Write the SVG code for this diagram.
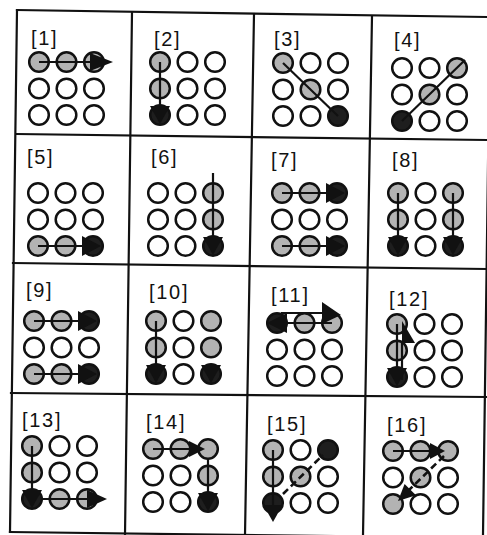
<svg xmlns="http://www.w3.org/2000/svg" width="487" height="535" viewBox="0 0 487 535">
<style>
.bg{fill:#fff}
.g{stroke:#111;stroke-width:2.2;fill:none;stroke-linecap:square}
.w{fill:#fff;stroke:#111;stroke-width:2.5}
.s{fill:#b3b3b3;stroke:#111;stroke-width:2.5}
.e{fill:#1e1e1e;stroke:#111;stroke-width:2.5}
.l{stroke:#111;stroke-width:2.2;fill:none}
.d{stroke:#111;stroke-width:2.6;fill:none;stroke-dasharray:7 4}
.a{fill:#111}
.t{font-family:"Liberation Sans",Arial,sans-serif;font-size:20px;letter-spacing:1.7px;fill:#111}
circle{r:9.8px}
</style>
<rect class="bg" x="0" y="0" width="487" height="535"/>
<g id="grid">
<path class="g" d="M17,10 L487,17 M17,134 L487,140 M13,263 L487,269 M11,393 L487,397 M10,532 L487,538"/>
<path class="g" d="M17,10 L10,532 M132,12 L125,535 M254,14 L245,535 M372,16 L363,535 M490,17 L483,535"/>
</g>
<g id="labels">
<text class="t" x="31" y="45">[1]</text>
<text class="t" x="154" y="46">[2]</text>
<text class="t" x="274" y="46">[3]</text>
<text class="t" x="394" y="47">[4]</text>
<text class="t" x="27" y="164">[5]</text>
<text class="t" x="151" y="164">[6]</text>
<text class="t" x="271" y="167">[7]</text>
<text class="t" x="392" y="167">[8]</text>
<text class="t" x="26" y="297">[9]</text>
<text class="t" x="149" y="299">[10]</text>
<text class="t" x="271" y="302">[11]</text>
<text class="t" x="389" y="306">[12]</text>
<text class="t" x="22" y="427">[13]</text>
<text class="t" x="146" y="429">[14]</text>
<text class="t" x="267" y="431">[15]</text>
<text class="t" x="387" y="432">[16]</text>
</g>
<g id="cell1" transform="translate(39,62)">
<circle class="s" cx="0" cy="0" r="9.8"/><circle class="s" cx="27.5" cy="0" r="9.8"/><circle class="s" cx="55" cy="0" r="9.8"/>
<circle class="w" cx="0" cy="26.5" r="9.8"/><circle class="w" cx="27.5" cy="26.5" r="9.8"/><circle class="w" cx="55" cy="26.5" r="9.8"/>
<circle class="w" cx="0" cy="53" r="9.8"/><circle class="w" cx="27.5" cy="53" r="9.8"/><circle class="w" cx="55" cy="53" r="9.8"/>
<path class="l" d="M0,0 H52"/>
<polygon class="a" points="51,-9 74,0 51,9"/>
</g>
<g id="cell2" transform="translate(160,62)">
<circle class="s" cx="0" cy="0" r="9.8"/><circle class="w" cx="27.5" cy="0" r="9.8"/><circle class="w" cx="55" cy="0" r="9.8"/>
<circle class="s" cx="0" cy="26.5" r="9.8"/><circle class="w" cx="27.5" cy="26.5" r="9.8"/><circle class="w" cx="55" cy="26.5" r="9.8"/>
<circle class="e" cx="0" cy="53" r="9.8"/><circle class="w" cx="27.5" cy="53" r="9.8"/><circle class="w" cx="55" cy="53" r="9.8"/>
<path class="l" d="M0,0 V45"/>
<polygon class="a" points="-10,44 10,44 0,62"/>
</g>
<g id="cell3" transform="translate(283,63)">
<circle class="s" cx="0" cy="0" r="9.8"/><circle class="w" cx="27.5" cy="0" r="9.8"/><circle class="w" cx="55" cy="0" r="9.8"/>
<circle class="w" cx="0" cy="26.5" r="9.8"/><circle class="s" cx="27.5" cy="26.5" r="9.8"/><circle class="w" cx="55" cy="26.5" r="9.8"/>
<circle class="w" cx="0" cy="53" r="9.8"/><circle class="w" cx="27.5" cy="53" r="9.8"/><circle class="e" cx="55" cy="53" r="9.8"/>
<path class="l" d="M0,0 L55,53"/>
</g>
<g id="cell4" transform="translate(402,68)">
<circle class="w" cx="0" cy="0" r="9.8"/><circle class="w" cx="27.5" cy="0" r="9.8"/><circle class="s" cx="55" cy="0" r="9.8"/>
<circle class="w" cx="0" cy="26.5" r="9.8"/><circle class="s" cx="27.5" cy="26.5" r="9.8"/><circle class="w" cx="55" cy="26.5" r="9.8"/>
<circle class="e" cx="0" cy="53" r="9.8"/><circle class="w" cx="27.5" cy="53" r="9.8"/><circle class="w" cx="55" cy="53" r="9.8"/>
<path class="l" d="M63,-8 L0,53"/>
</g>
<g id="cell5" transform="translate(38,193)">
<circle class="w" cx="0" cy="0" r="9.8"/><circle class="w" cx="27.5" cy="0" r="9.8"/><circle class="w" cx="55" cy="0" r="9.8"/>
<circle class="w" cx="0" cy="26.5" r="9.8"/><circle class="w" cx="27.5" cy="26.5" r="9.8"/><circle class="w" cx="55" cy="26.5" r="9.8"/>
<circle class="s" cx="0" cy="53" r="9.8"/><circle class="s" cx="27.5" cy="53" r="9.8"/><circle class="e" cx="55" cy="53" r="9.8"/>
<path class="l" d="M0,53 H45"/>
<polygon class="a" points="44,43 44,63 63,53"/>
</g>
<g id="cell6" transform="translate(158,193)">
<circle class="w" cx="0" cy="0" r="9.8"/><circle class="w" cx="27.5" cy="0" r="9.8"/><circle class="s" cx="55" cy="0" r="9.8"/>
<circle class="w" cx="0" cy="26.5" r="9.8"/><circle class="w" cx="27.5" cy="26.5" r="9.8"/><circle class="s" cx="55" cy="26.5" r="9.8"/>
<circle class="w" cx="0" cy="53" r="9.8"/><circle class="w" cx="27.5" cy="53" r="9.8"/><circle class="e" cx="55" cy="53" r="9.8"/>
<path class="l" d="M55,-20 V45"/>
<polygon class="a" points="45,44 65,44 55,62"/>
</g>
<g id="cell7" transform="translate(282,193)">
<circle class="s" cx="0" cy="0" r="9.8"/><circle class="s" cx="27.5" cy="0" r="9.8"/><circle class="e" cx="55" cy="0" r="9.8"/>
<circle class="w" cx="0" cy="26.5" r="9.8"/><circle class="w" cx="27.5" cy="26.5" r="9.8"/><circle class="w" cx="55" cy="26.5" r="9.8"/>
<circle class="s" cx="0" cy="53" r="9.8"/><circle class="s" cx="27.5" cy="53" r="9.8"/><circle class="e" cx="55" cy="53" r="9.8"/>
<path class="l" d="M0,0 H45 M0,53 H45"/>
<polygon class="a" points="44,-10 44,10 63,0"/>
<polygon class="a" points="44,43 44,63 63,53"/>
</g>
<g id="cell8" transform="translate(398,193)">
<circle class="s" cx="0" cy="0" r="9.8"/><circle class="w" cx="27.5" cy="0" r="9.8"/><circle class="s" cx="55" cy="0" r="9.8"/>
<circle class="s" cx="0" cy="26.5" r="9.8"/><circle class="w" cx="27.5" cy="26.5" r="9.8"/><circle class="s" cx="55" cy="26.5" r="9.8"/>
<circle class="e" cx="0" cy="53" r="9.8"/><circle class="w" cx="27.5" cy="53" r="9.8"/><circle class="e" cx="55" cy="53" r="9.8"/>
<path class="l" d="M0,0 V45 M55,0 V45"/>
<polygon class="a" points="-10,44 10,44 0,62"/>
<polygon class="a" points="45,44 65,44 55,62"/>
</g>
<g id="cell9" transform="translate(34,321)">
<circle class="s" cx="0" cy="0" r="9.8"/><circle class="s" cx="27.5" cy="0" r="9.8"/><circle class="e" cx="55" cy="0" r="9.8"/>
<circle class="w" cx="0" cy="26.5" r="9.8"/><circle class="w" cx="27.5" cy="26.5" r="9.8"/><circle class="w" cx="55" cy="26.5" r="9.8"/>
<circle class="s" cx="0" cy="53" r="9.8"/><circle class="s" cx="27.5" cy="53" r="9.8"/><circle class="e" cx="55" cy="53" r="9.8"/>
<path class="l" d="M0,0 H45 M0,53 H45"/>
<polygon class="a" points="44,-10 44,10 63,0"/>
<polygon class="a" points="44,43 44,63 63,53"/>
</g>
<g id="cell10" transform="translate(156,321)">
<circle class="s" cx="0" cy="0" r="9.8"/><circle class="w" cx="27.5" cy="0" r="9.8"/><circle class="s" cx="55" cy="0" r="9.8"/>
<circle class="s" cx="0" cy="26.5" r="9.8"/><circle class="w" cx="27.5" cy="26.5" r="9.8"/><circle class="s" cx="55" cy="26.5" r="9.8"/>
<circle class="e" cx="0" cy="53" r="9.8"/><circle class="w" cx="27.5" cy="53" r="9.8"/><circle class="e" cx="55" cy="53" r="9.8"/>
<path class="l" d="M0,0 V45"/>
<polygon class="a" points="-10,44 10,44 0,62"/>
<polygon class="a" points="45,44 65,44 55,62"/>
</g>
<g id="cell11" transform="translate(277,323)">
<circle class="e" cx="0" cy="0" r="9.8"/><circle class="s" cx="27.5" cy="0" r="9.8"/><circle class="s" cx="55" cy="0" r="9.8"/>
<circle class="w" cx="0" cy="26.5" r="9.8"/><circle class="w" cx="27.5" cy="26.5" r="9.8"/><circle class="w" cx="55" cy="26.5" r="9.8"/>
<circle class="w" cx="0" cy="53" r="9.8"/><circle class="w" cx="27.5" cy="53" r="9.8"/><circle class="w" cx="55" cy="53" r="9.8"/>
<path class="l" d="M8,0 H55 M4,-10 H46"/>
<polygon class="a" points="10,-10 10,10 -10,0"/>
<polygon class="a" points="45,-21 45,1 64,-8"/>
</g>
<g id="cell12" transform="translate(397,324)">
<circle class="s" cx="0" cy="0" r="9.8"/><circle class="w" cx="27.5" cy="0" r="9.8"/><circle class="w" cx="55" cy="0" r="9.8"/>
<circle class="s" cx="0" cy="26.5" r="9.8"/><circle class="w" cx="27.5" cy="26.5" r="9.8"/><circle class="w" cx="55" cy="26.5" r="9.8"/>
<circle class="e" cx="0" cy="53" r="9.8"/><circle class="w" cx="27.5" cy="53" r="9.8"/><circle class="w" cx="55" cy="53" r="9.8"/>
<path class="l" d="M0,0 V45 M5,56 V18"/>
<polygon class="a" points="-10,44 10,44 0,62"/>
<polygon class="a" points="5,-3 5,19 18,19"/>
</g>
<g id="cell13" transform="translate(32,446)">
<circle class="s" cx="0" cy="0" r="9.8"/><circle class="w" cx="27.5" cy="0" r="9.8"/><circle class="w" cx="55" cy="0" r="9.8"/>
<circle class="s" cx="0" cy="26.5" r="9.8"/><circle class="w" cx="27.5" cy="26.5" r="9.8"/><circle class="w" cx="55" cy="26.5" r="9.8"/>
<circle class="e" cx="0" cy="53" r="9.8"/><circle class="s" cx="27.5" cy="53" r="9.8"/><circle class="s" cx="55" cy="53" r="9.8"/>
<path class="l" d="M0,0 V45 M10,53 H55"/>
<polygon class="a" points="-10,44 10,44 0,62"/>
<polygon class="a" points="55,44 55,62 75,53"/>
</g>
<g id="cell14" transform="translate(153,449)">
<circle class="s" cx="0" cy="0" r="9.8"/><circle class="s" cx="27.5" cy="0" r="9.8"/><circle class="s" cx="55" cy="0" r="9.8"/>
<circle class="w" cx="0" cy="26.5" r="9.8"/><circle class="w" cx="27.5" cy="26.5" r="9.8"/><circle class="s" cx="55" cy="26.5" r="9.8"/>
<circle class="w" cx="0" cy="53" r="9.8"/><circle class="w" cx="27.5" cy="53" r="9.8"/><circle class="e" cx="55" cy="53" r="9.8"/>
<path class="l" d="M0,0 H37 M55,10 V45"/>
<polygon class="a" points="36,-8 36,8 52,0"/>
<polygon class="a" points="45,44 65,44 55,62"/>
</g>
<g id="cell15" transform="translate(273,450)">
<circle class="s" cx="0" cy="0" r="9.8"/><circle class="w" cx="27.5" cy="0" r="9.8"/><circle class="e" cx="55" cy="0" r="9.8"/>
<circle class="s" cx="0" cy="26.5" r="9.8"/><circle class="s" cx="27.5" cy="26.5" r="9.8"/><circle class="w" cx="55" cy="26.5" r="9.8"/>
<circle class="e" cx="0" cy="53" r="9.8"/><circle class="w" cx="27.5" cy="53" r="9.8"/><circle class="w" cx="55" cy="53" r="9.8"/>
<path class="l" d="M0,0 V56"/>
<path class="d" d="M10,44 L50,5"/>
<polygon class="a" points="-9.5,55 9.5,55 0,72"/>
</g>
<g id="cell16" transform="translate(393,451)">
<circle class="s" cx="0" cy="0" r="9.8"/><circle class="s" cx="27.5" cy="0" r="9.8"/><circle class="s" cx="55" cy="0" r="9.8"/>
<circle class="w" cx="0" cy="26.5" r="9.8"/><circle class="s" cx="27.5" cy="26.5" r="9.8"/><circle class="w" cx="55" cy="26.5" r="9.8"/>
<circle class="s" cx="0" cy="53" r="9.8"/><circle class="w" cx="27.5" cy="53" r="9.8"/><circle class="w" cx="55" cy="53" r="9.8"/>
<path class="l" d="M0,0 H38"/>
<path class="d" d="M51,5 L15,40"/>
<polygon class="a" points="37,-8 37,8 52,0"/>
<polygon class="a" points="23,44.3 11.6,33 5,50"/>
</g>
</svg>
